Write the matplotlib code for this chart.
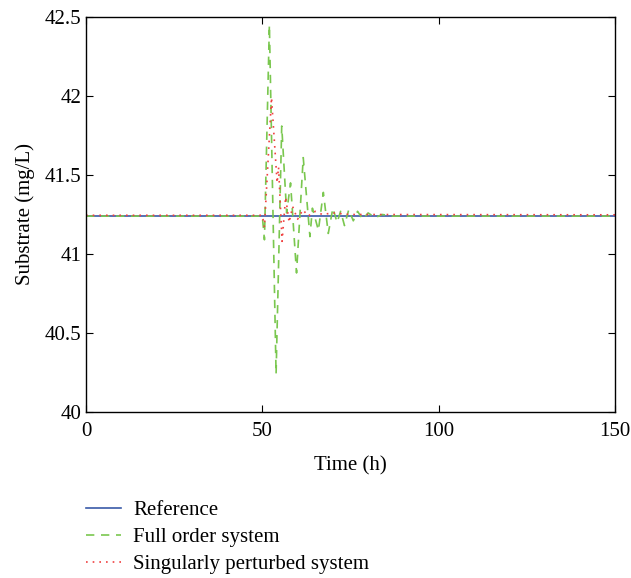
import numpy as np
import matplotlib
matplotlib.use('Agg')
from matplotlib import pyplot as plt

plt.rcParams['font.family'] = ['Liberation Serif', 'DejaVu Serif']

# set-point of the substrate concentration
t_ref = [0, 150]
s_ref = [41.24, 41.24]

# full order system response
t_full = [0, 50.0, 50.6, 52.0, 53.9, 55.5, 56.9, 58.0, 59.7, 61.6, 63.5, 64.2,
          65.9, 67.3, 68.7, 70.0, 71.2, 72.2, 73.3, 74.5, 75.8, 77.0, 78.5,
          80.0, 82.0, 84.0, 87.0, 150]
s_full = [41.24, 41.24, 41.09, 42.45, 40.24, 41.81, 41.26, 41.45, 40.88, 41.61,
          41.11, 41.29, 41.15, 41.39, 41.13, 41.29, 41.20, 41.27, 41.18, 41.28,
          41.21, 41.27, 41.22, 41.26, 41.23, 41.25, 41.24, 41.24]

# singularly perturbed system response
t_sp = [0, 50.0, 50.6, 52.6, 54.2, 54.6, 55.6, 56.6, 57.6, 58.6, 60.0, 61.5,
        63.0, 65.0, 67.0, 70.0, 75.0, 150]
s_sp = [41.245, 41.245, 41.17, 41.99, 41.45, 41.55, 41.08, 41.36, 41.20, 41.30,
        41.22, 41.28, 41.24, 41.27, 41.25, 41.26, 41.25, 41.248]

fig = plt.figure(figsize=(6.31, 5.78), dpi=100)
ax = fig.add_axes([0.1363, 0.2872, 0.8383, 0.6834])

l1, = ax.plot(t_ref, s_ref, color='#3a5aa8', lw=1.2, label='Reference')
l2, = ax.plot(t_full, s_full, color='#7ac74f', lw=1.2, ls=(0, (5, 4)),
              label='Full order system')
l3, = ax.plot(t_sp, s_sp, color='#f04040', lw=1.2, ls=(0, (1, 3)),
              label='Singularly perturbed system')

ax.set_xlim(0, 150)
ax.set_ylim(40, 42.5)
ax.set_xticks([0, 50, 100, 150])
ax.set_yticks([40, 40.5, 41, 41.5, 42, 42.5])
ax.set_yticklabels(['40', '40.5', '41', '41.5', '42', '42.5'])
ax.tick_params(direction='in', top=True, right=True, labelsize=15, length=5)
ax.tick_params(axis='x', pad=7)
for sp in ax.spines.values():
    sp.set_linewidth(1.0)

ax.set_xlabel('Time (h)', fontsize=15, labelpad=11)
ax.set_ylabel('Substrate (mg/L)', fontsize=15, labelpad=7)

fig.legend(handles=[l1, l2, l3], loc='upper left', bbox_to_anchor=(0.137, 0.134),
           frameon=False, fontsize=15, handlelength=1.65, handletextpad=0.6,
           labelspacing=0.35, borderaxespad=0, borderpad=0)

fig.savefig('out.png', dpi=100)
